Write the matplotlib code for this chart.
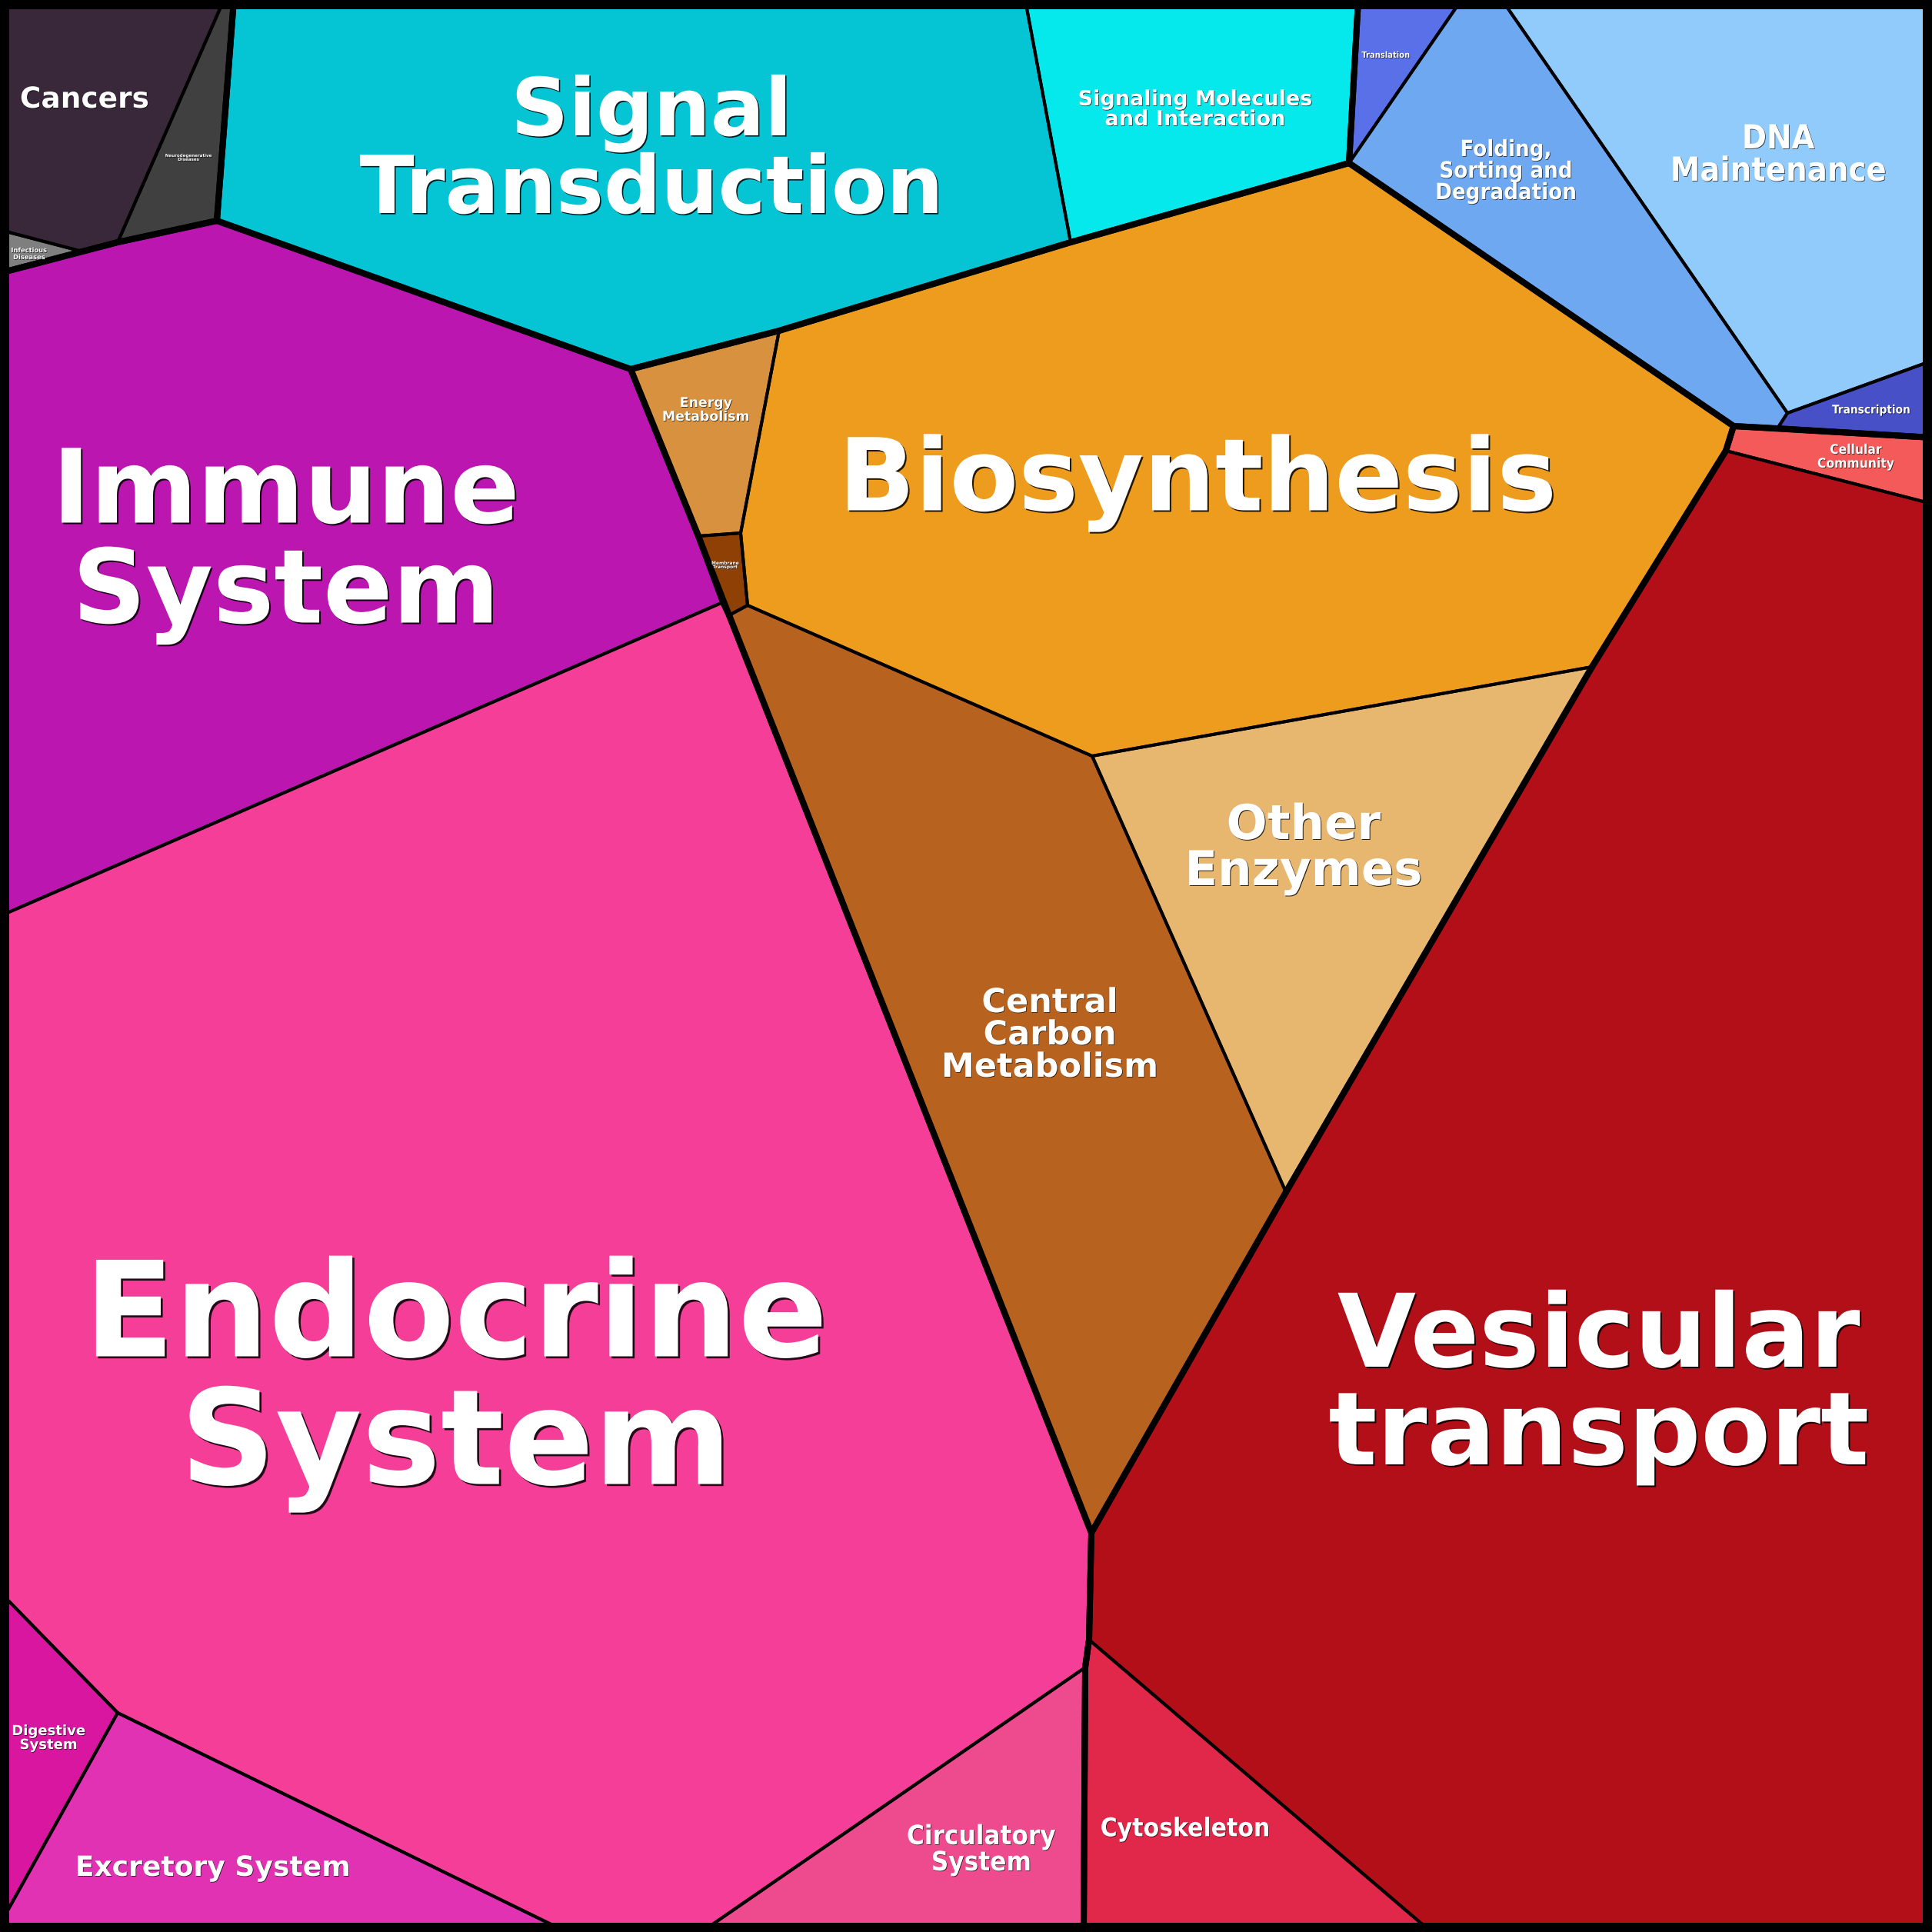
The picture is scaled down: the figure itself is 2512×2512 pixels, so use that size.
import matplotlib
matplotlib.use('Agg')
import matplotlib.pyplot as plt
import matplotlib.patheffects as pe
from matplotlib.collections import LineCollection
from matplotlib.patches import Polygon, Rectangle
from matplotlib.path import Path
import numpy as np

SIZE = 2512
DPI = 100
PT = 72 / DPI  # points per pixel

# cells of the voronoi treemap (name, group, colour, outline in pixel units)
CELL_NAMES = [
    'Cancers', 'Neurodegenerative Diseases', 'Infectious Diseases',
    'Signal Transduction', 'Signaling Molecules and Interaction',
    'Translation', 'Folding, Sorting and Degradation', 'DNA Maintenance', 'Transcription',
    'Cellular Community', 'Vesicular transport', 'Cytoskeleton',
    'Energy Metabolism', 'Membrane Transport', 'Biosynthesis',
    'Central Carbon Metabolism', 'Other Enzymes',
    'Immune System', 'Endocrine System', 'Digestive System', 'Excretory System',
    'Circulatory System',
]
CELL_GROUPS = [
    'disease', 'disease', 'disease',
    'signal', 'signal',
    'genetic', 'genetic', 'genetic', 'genetic',
    'cellular', 'cellular', 'cellular',
    'metabolism', 'metabolism', 'metabolism', 'metabolism', 'metabolism',
    'organismal', 'organismal', 'organismal', 'organismal', 'organismal',
]
CELL_COLORS = [
    '#38283a', '#404040', '#7f7f7f',
    '#05c5d5', '#05e8ec',
    '#5970e8', '#6ea8f0', '#90cbfb', '#4850c8',
    '#f55a5a', '#b30f18', '#e2284a',
    '#d8913f', '#8f4004', '#ed9c1d', '#b8621f', '#e8b76f',
    '#bb16b0', '#f43e98', '#d8169f', '#e032b2', '#ee4b8e',
]
CELL_POLYGONS = [
    [(0, 0), (291, 0), (153, 315), (107, 327), (0, 299)],
    [(291, 0), (304, 0), (282, 287), (153, 315)],
    [(0, 299), (107, 327), (0, 355)],
    [(304, 0), (1333, 0), (1392, 315), (1013, 430), (820, 480), (282, 287)],
    [(1333, 0), (1766, 0), (1754, 212), (1392, 315)],
    [(1766, 0), (1900, 0), (1754, 212)],
    [(1900, 0), (1953, 0), (2324, 537), (2311, 557), (2254, 554), (1754, 212)],
    [(1953, 0), (2512, 0), (2512, 469), (2324, 537)],
    [(2324, 537), (2512, 469), (2512, 569), (2311, 557)],
    [(2254, 554), (2512, 569), (2512, 655), (2244, 586)],
    [(2244, 586), (2512, 655), (2512, 2512), (1861, 2512), (1416, 2132),
     (1419, 1993), (1672, 1550), (2070, 867)],
    [(1416, 2132), (1861, 2512), (1409, 2512), (1411, 2168)],
    [(820, 480), (1013, 430), (963, 693), (908, 697)],
    [(908, 697), (963, 693), (972, 787), (948, 800)],
    [(1013, 430), (1392, 315), (1754, 212), (2254, 554), (2244, 586),
     (2070, 867), (1420, 983), (972, 787), (963, 693)],
    [(948, 800), (972, 787), (1420, 983), (1672, 1550), (1419, 1993)],
    [(1420, 983), (2070, 867), (1672, 1550)],
    [(0, 355), (153, 315), (282, 287), (820, 480), (908, 697), (940, 783), (0, 1191)],
    [(0, 1191), (940, 783), (948, 800), (1419, 1993), (1416, 2132), (1411, 2168),
     (912, 2512), (737, 2512), (153, 2227), (0, 2070)],
    [(0, 2070), (153, 2227), (0, 2502)],
    [(153, 2227), (737, 2512), (0, 2512), (0, 2502)],
    [(1411, 2168), (1409, 2512), (912, 2512)],
]

# labels
LABEL_TEXT = [
    'Cancers', 'Neurodegenerative\nDiseases', 'Infectious\nDiseases',
    'Signal\nTransduction', 'Signaling Molecules\nand Interaction',
    'Translation', 'Folding,\nSorting and\nDegradation', 'DNA\nMaintenance', 'Transcription',
    'Cellular\nCommunity', 'Vesicular\ntransport', 'Cytoskeleton',
    'Energy\nMetabolism', 'Membrane\nTransport', 'Biosynthesis',
    'Central\nCarbon\nMetabolism', 'Other\nEnzymes',
    'Immune\nSystem', 'Endocrine\nSystem', 'Digestive\nSystem', 'Excretory System',
    'Circulatory\nSystem',
]
LABEL_XY = [
    (110, 130), (245, 205), (38, 330),
    (847, 198), (1554, 143),
    (1802, 72), (1958, 223), (2312, 202), (2433, 533),
    (2413, 594), (2079, 1804), (1541, 2378),
    (918, 533), (943, 735), (1557, 628),
    (1365, 1346), (1695, 1104),
    (372, 708), (593, 1800), (63, 2260), (277, 2429),
    (1276, 2405),
]
LABEL_SIZES = [
    27, 4, 6,
    75, 19.5,
    8, 21, 31, 11,
    12.5, 95, 24,
    12.5, 4.3, 94,
    31, 45,
    96, 124, 13, 26,
    25,
]
LABEL_CONDENSED = [
    False, False, False,
    False, False,
    True, True, True, True,
    True, False, True,
    False, False, False,
    False, False,
    False, False, False, False,
    True,
]

THIN_LW = 4 * PT
THICK_LW = 8 * PT

fig = plt.figure(figsize=(SIZE / DPI, SIZE / DPI), dpi=DPI)
ax = fig.add_axes([0, 0, 1, 1])
ax.set_xlim(0, SIZE)
ax.set_ylim(SIZE, 0)
ax.axis('off')

paths = [Path(np.array(poly, dtype=float)) for poly in CELL_POLYGONS]


def cell_at(point):
    x, y = point
    if x <= 0 or y <= 0 or x >= SIZE or y >= SIZE:
        return -1
    for k, path in enumerate(paths):
        if path.contains_point(point):
            return k
    return None


for poly, color in zip(CELL_POLYGONS, CELL_COLORS):
    ax.add_patch(Polygon(poly, closed=True, facecolor=color, edgecolor='none', zorder=1))

# an edge is thick when the cell on its other side belongs to another group
thin_segments = []
thick_segments = []
for i, poly in enumerate(CELL_POLYGONS):
    pts = np.array(poly, dtype=float)
    for a, b in zip(pts, np.roll(pts, -1, axis=0)):
        d = b - a
        normal = np.array([-d[1], d[0]]) / np.hypot(*d)
        mid = (a + b) / 2
        sides = [cell_at(mid + 14 * normal), cell_at(mid - 14 * normal)]
        if -1 in sides:
            continue
        other = [s for s in sides if s != i]
        if other and other[0] is not None and CELL_GROUPS[other[0]] != CELL_GROUPS[i]:
            thick_segments.append([a, b])
        else:
            thin_segments.append([a, b])

ax.add_collection(LineCollection(thin_segments, colors='black', linewidths=THIN_LW,
                                 capstyle='round', zorder=2))
ax.add_collection(LineCollection(thick_segments, colors='black', linewidths=THICK_LW,
                                 capstyle='round', zorder=3))
ax.add_patch(Rectangle((0, 0), SIZE, SIZE, fill=False, edgecolor='black',
                       linewidth=24 * PT, zorder=4, clip_on=True))

for text, (x, y), size, condensed in zip(LABEL_TEXT, LABEL_XY, LABEL_SIZES, LABEL_CONDENSED):
    shadow = max(0.5, size / 65)
    ax.text(x, y, text, ha='center', va='center', multialignment='center',
            fontsize=size, fontweight='bold', color='white',
            family='DejaVu Sans', fontstretch='condensed' if condensed else 'normal',
            linespacing=1.0, zorder=5,
            path_effects=[pe.SimplePatchShadow(offset=(shadow, -shadow),
                                               shadow_rgbFace='black', alpha=0.85),
                          pe.Normal()])

fig.savefig('out.png', dpi=DPI)
